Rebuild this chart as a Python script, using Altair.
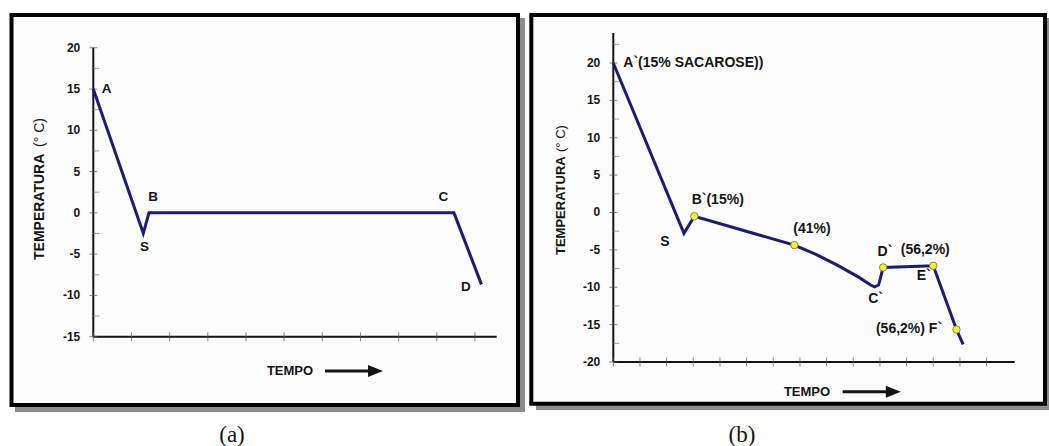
import altair as alt
import pandas as pd

W, H = 1049, 446
SANS = "Liberation Sans"
SERIF = "Liberation Serif"
INK = "#151515"
LINE = "#1d1c6e"
FRAME_BG = "#fcfcfc"
SHADOW = "#8c8c8c"

# ---------------- panel (a): freezing of pure water ----------------
a_time = [0.0, 1.31, 1.46, 9.45, 10.17]
a_temp = [15.0, -2.48, 0.0, 0.0, -8.66]
a_names = ["A", "S", "B", "C", "D"]
a_name_t = [0.35, 1.34, 1.57, 9.17, 9.76]
a_name_v = [15.0, -4.1, 1.95, 1.95, -9.0]
a_major = [-15, -10, -5, 0, 5, 10, 15, 20]
a_minor = [-12.5, -7.5, -2.5, 2.5, 7.5, 12.5, 17.5]
a_xticks = list(range(11))
a_xmax = 10.57

# ---------------- panel (b): freezing of a 15% sucrose solution ----------------
b_time = [0.0, 2.65, 3.04, 6.79, 7.6, 8.4, 9.2, 9.65, 9.8, 9.95, 10.12, 12.0, 12.87, 13.12]
b_temp = [20.0, -2.79, -0.5, -4.36, -5.6, -7.04, -8.65, -9.7, -9.95, -9.7, -7.35, -7.13, -15.66, -17.63]
b_dot_t = [3.04, 6.79, 10.12, 12.0, 12.87]
b_dot_v = [-0.5, -4.36, -7.35, -7.13, -15.66]
b_names = ["A`(15% SACAROSE))", "B`(15%)", "(41%)", "S", "C`", "D`", "(56,2%)", "E`", "(56,2%) F`"]
b_name_t = [0.375, 2.94, 6.75, 1.76, 9.56, 9.91, 10.78, 11.38, 9.85]
b_name_v = [20.0, 1.67, -2.25, -3.9, -11.57, -5.24, -5.02, -8.49, -15.58]
b_major = [-20, -15, -10, -5, 0, 5, 10, 15, 20]
b_minor = [-17.5, -12.5, -7.5, -2.5, 2.5, 7.5, 12.5, 17.5, 22.5]
b_xticks = list(range(15))
b_xmax = 15.05
b_ytop = 24.0

# scale domains spanning the whole canvas so each panel sits inside its frame
A_X = alt.Scale(domain=[-2.444, 25.04], nice=False, zero=False)
A_Y = alt.Scale(domain=[-28.24, 25.78], nice=False, zero=False)
B_X = alt.Scale(domain=[-23.0, 16.34], nice=False, zero=False)
B_Y = alt.Scale(domain=[-31.24, 28.43], nice=False, zero=False)


def build_panel(xs, ys, time, temp, names, name_t, name_v, name_align,
                label_size, major, minor, xticks, xmax, ymin, ytop,
                dots_t=None, dots_v=None):
    X = lambda f="t": alt.X(f"{f}:Q", scale=xs, axis=None)
    Y = lambda f="v": alt.Y(f"{f}:Q", scale=ys, axis=None)

    # axis lines
    yline = alt.Chart(pd.DataFrame({"t": [0.0], "v": [ymin], "v2": [ytop]})).mark_rule(
        color=INK, strokeWidth=2).encode(x=X(), y=Y(), y2="v2:Q")
    xline = alt.Chart(pd.DataFrame({"t": [0.0], "t2": [xmax], "v": [ymin]})).mark_rule(
        color=INK, strokeWidth=2).encode(x=X(), x2="t2:Q", y=Y())

    # tick marks and tick labels of the temperature axis
    yt_major = alt.Chart(pd.DataFrame({"t": [0.0] * len(major), "v": major})).mark_tick(
        orient="horizontal", size=8, thickness=1, color="#555").encode(x=X(), y=Y())
    yt_minor = alt.Chart(pd.DataFrame({"t": [0.0] * len(minor), "v": minor})).mark_tick(
        orient="horizontal", size=6, thickness=1, color="#777", xOffset=3).encode(x=X(), y=Y())
    yt_text = alt.Chart(pd.DataFrame({"t": [0.0] * len(major), "v": major,
                                      "txt": [str(m) for m in major]})).mark_text(
        font=SANS, fontWeight="bold", fontSize=12, color=INK, align="right",
        baseline="middle", dx=-13).encode(x=X(), y=Y(), text="txt:N")
    xt = alt.Chart(pd.DataFrame({"t": xticks, "v": [ymin] * len(xticks)})).mark_tick(
        orient="vertical", size=9, thickness=1, color="#555").encode(x=X(), y=Y())

    curve = alt.Chart(pd.DataFrame({"t": time, "v": temp, "o": list(range(len(time)))})).mark_line(
        color=LINE, strokeWidth=3).encode(x=X(), y=Y(), order="o:Q")

    labels = alt.Chart(pd.DataFrame({"t": name_t, "v": name_v, "txt": names})).mark_text(
        font=SANS, fontWeight="bold", fontSize=label_size, color=INK,
        align=name_align, baseline="middle").encode(x=X(), y=Y(), text="txt:N")

    layers = [yline, xline, yt_major, yt_minor, yt_text, xt, curve]
    if dots_t is not None:
        dots = alt.Chart(pd.DataFrame({"t": dots_t, "v": dots_v})).mark_point(
            filled=True, fill="#f3ee3a", stroke="#8a8640", strokeWidth=1,
            size=55, opacity=1).encode(x=X(), y=Y())
        layers.append(dots)
    layers.append(labels)
    return alt.layer(*layers)


panel_a = build_panel(A_X, A_Y, a_time, a_temp,
                      a_names, a_name_t, a_name_v, "center", 13.5,
                      a_major, a_minor, a_xticks, a_xmax, -15, 20)
panel_b = build_panel(B_X, B_Y, b_time, b_temp,
                      b_names, b_name_t, b_name_v, "left", 14,
                      b_major, b_minor, b_xticks, b_xmax, -20, b_ytop,
                      b_dot_t, b_dot_v)

one = pd.DataFrame({"k": [0]})


def box(x1, x2, y1, y2, **kw):
    return alt.Chart(one).mark_rect(**kw).encode(
        x=alt.value(x1), x2=alt.value(x2), y=alt.value(y1), y2=alt.value(y2))


def label(txt, x, y, **kw):
    return alt.Chart(one).mark_text(text=txt, **kw).encode(x=alt.value(x), y=alt.value(y))


def arrow(x1, x2, y, head_x):
    shaft = alt.Chart(one).mark_rule(color=INK, strokeWidth=3).encode(
        x=alt.value(x1), x2=alt.value(x2), y=alt.value(y))
    head = alt.Chart(one).mark_point(shape="M -1 -0.8 L 1 0 L -1 0.8 Z", filled=True,
                                     fill=INK, size=225, opacity=1).encode(
        x=alt.value(head_x), y=alt.value(y))
    return shaft + head


frames = alt.layer(
    box(15, 525, 18, 412, fill=SHADOW),
    box(11.5, 518, 15, 405, fill=FRAME_BG, stroke="#000", strokeWidth=4),
    box(536, 1060, 18, 410, fill=SHADOW),
    box(531.3, 1045, 15, 403.8, fill=FRAME_BG, stroke="#000", strokeWidth=4),
)

decor = alt.layer(
    # axis titles
    label("TEMPERATURA", 40, 260, angle=270, align="left", baseline="middle",
          font=SANS, fontWeight="bold", fontSize=14, color=INK),
    label("(° C)", 40, 147, angle=270, align="left", baseline="middle",
          font=SANS, fontWeight="normal", fontSize=14, color=INK),
    label("TEMPERATURA", 560.5, 255, angle=270, align="left", baseline="middle",
          font=SANS, fontWeight="bold", fontSize=13, color=INK),
    label("(° C)", 560.5, 152, angle=270, align="left", baseline="middle",
          font=SANS, fontWeight="normal", fontSize=13, color=INK),
    label("TEMPO", 290, 371, align="center", baseline="middle",
          font=SANS, fontWeight="bold", fontSize=13, color=INK),
    label("TEMPO", 807, 391.7, align="center", baseline="middle",
          font=SANS, fontWeight="bold", fontSize=13, color=INK),
    arrow(325, 370, 371, 375.5),
    arrow(842.7, 887, 391.7, 893.3),
    # captions
    label("(a)", 232, 435, align="center", baseline="middle",
          font=SERIF, fontSize=23, color=INK),
    label("(b)", 742, 435, align="center", baseline="middle",
          font=SERIF, fontSize=23, color=INK),
)

chart = alt.layer(frames, panel_a, panel_b, decor).resolve_scale(
    x="independent", y="independent"
).properties(
    width=W, height=H, autosize=alt.AutoSizeParams(type="none"), padding=0,
    background="white"
).configure_view(stroke=None)

chart.save("out.html", embed_options={"renderer": "svg", "actions": False})
